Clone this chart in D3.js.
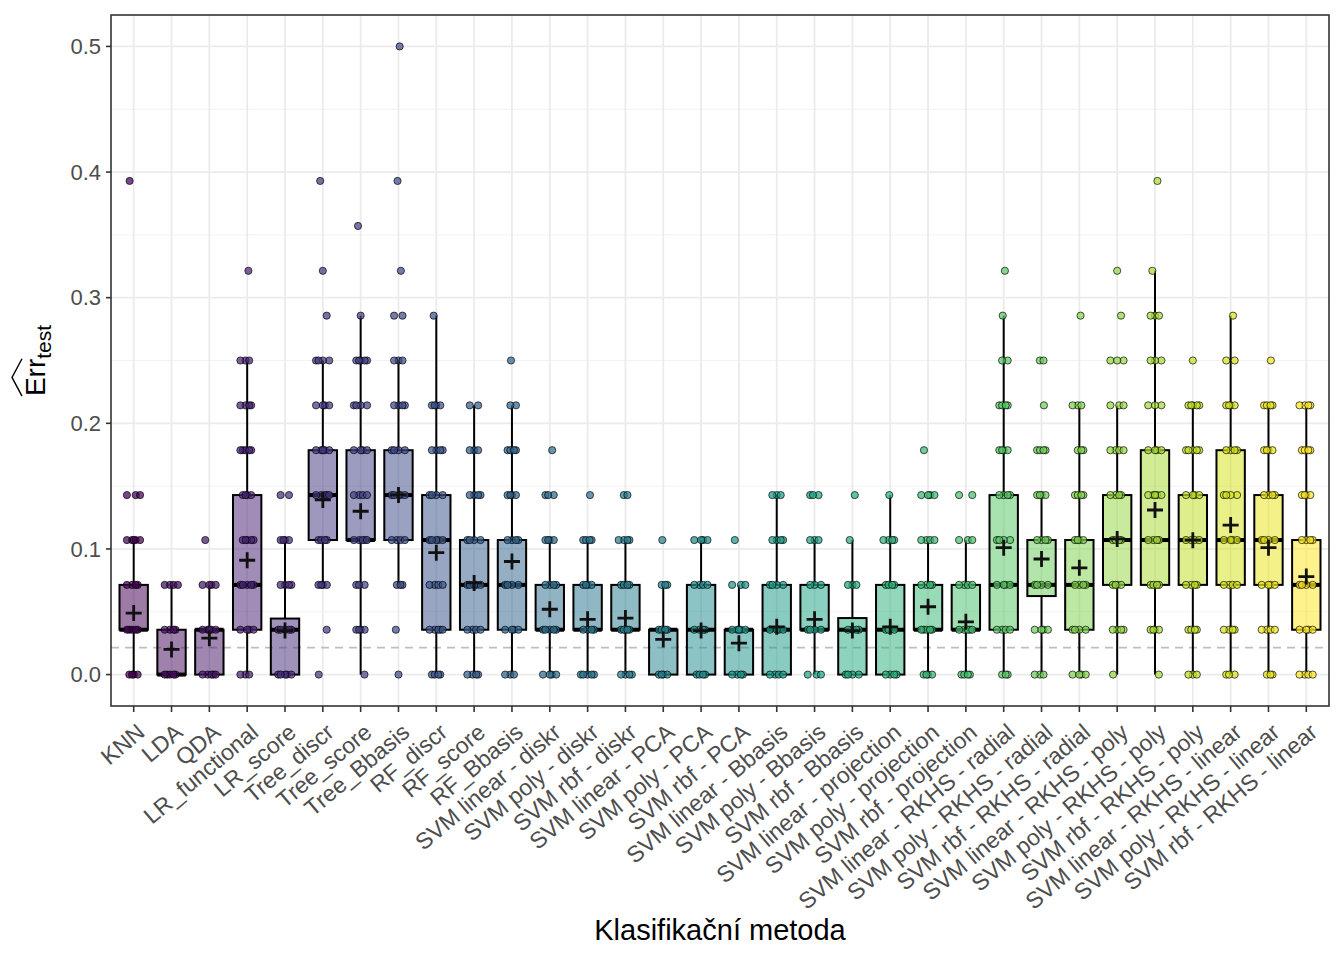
<!DOCTYPE html>
<html>
<head>
<meta charset="utf-8">
<script src="https://cdn.jsdelivr.net/npm/d3@7"></script>
<style>
body { margin: 0; background: #fff; }
text { font-family: "Liberation Sans", Arial, sans-serif; }
</style>
</head>
<body>
<svg id="chart" width="1344" height="960"></svg>
<script>
// methods on the x axis
var methods = ["KNN", "LDA", "QDA", "LR_functional", "LR_score", "Tree_discr", "Tree_score",
    "Tree_Bbasis", "RF_discr", "RF_score", "RF_Bbasis", "SVM linear - diskr", "SVM poly - diskr",
    "SVM rbf - diskr", "SVM linear - PCA", "SVM poly - PCA", "SVM rbf - PCA", "SVM linear - Bbasis",
    "SVM poly - Bbasis", "SVM rbf - Bbasis", "SVM linear - projection", "SVM poly - projection",
    "SVM rbf - projection", "SVM linear - RKHS - radial", "SVM poly - RKHS - radial",
    "SVM rbf - RKHS - radial", "SVM linear - RKHS - poly", "SVM poly - RKHS - poly",
    "SVM rbf - RKHS - poly", "SVM linear - RKHS - linear", "SVM poly - RKHS - linear",
    "SVM rbf - RKHS - linear"];

// box statistics (test error)
var q1 = [0.0357, 0, 0, 0.0357, 0, 0.1071, 0.1071, 0.1071, 0.0357, 0.0357, 0.0357, 0.0357, 0.0357,
    0.0357, 0, 0, 0, 0, 0.0357, 0, 0, 0.0357, 0.0357, 0.0357, 0.0625, 0.0357, 0.0714, 0.0714,
    0.0714, 0.0714, 0.0714, 0.0357];
var medians = [0.0357, 0, 0.0357, 0.0714, 0.0357, 0.1429, 0.1071, 0.1429, 0.1071, 0.0714, 0.0714,
    0.0357, 0.0357, 0.0357, 0.0357, 0.0357, 0.0357, 0.0357, 0.0357, 0.0357, 0.0357, 0.0357, 0.0357,
    0.0714, 0.0714, 0.0714, 0.1071, 0.1071, 0.1071, 0.1071, 0.1071, 0.0714];
var q3 = [0.0714, 0.0357, 0.0357, 0.1429, 0.0446, 0.1786, 0.1786, 0.1786, 0.1429, 0.1071, 0.1071,
    0.0714, 0.0714, 0.0714, 0.0357, 0.0714, 0.0357, 0.0714, 0.0714, 0.045, 0.0714, 0.0714, 0.0714,
    0.1429, 0.1071, 0.1071, 0.1429, 0.1786, 0.1429, 0.1786, 0.1429, 0.1071];
var whiskLow = [0, 0, 0, 0, 0, 0.0714, 0, 0.0714, 0, 0, 0, 0, 0, 0, 0, 0, 0, 0, 0, 0, 0, 0, 0, 0, 0,
    0, 0, 0, 0, 0, 0, 0];
var whiskHigh = [0.1071, 0.0714, 0.0714, 0.25, 0.1071, 0.25, 0.2857, 0.25, 0.2857, 0.2143, 0.2143,
    0.1071, 0.1071, 0.1071, 0.0714, 0.1071, 0.0714, 0.1429, 0.1071, 0.1071, 0.1429, 0.1071, 0.1071,
    0.2857, 0.1429, 0.2143, 0.2143, 0.3214, 0.2143, 0.2857, 0.2143, 0.2143];
var means = [0.049, 0.020, 0.029, 0.091, 0.035, 0.139, 0.130, 0.143, 0.097, 0.073, 0.090, 0.052,
    0.044, 0.045, 0.028, 0.035, 0.025, 0.038, 0.044, 0.035, 0.038, 0.054, 0.042, 0.101, 0.092,
    0.085, 0.108, 0.131, 0.107, 0.119, 0.101, 0.078];

// observed errors per method: [value, number of repetitions shown]
var points = [
    [[0, 4], [0.0357, 5], [0.0714, 4], [0.1071, 5], [0.1429, 3], [0.3929, 1]],
    [[0, 5], [0.0357, 4], [0.0714, 4]],
    [[0, 5], [0.0357, 5], [0.0714, 4], [0.1071, 1]],
    [[0, 3], [0.0357, 4], [0.0714, 5], [0.1071, 5], [0.1429, 4], [0.1786, 5], [0.2143, 4], [0.25, 3], [0.3214, 1]],
    [[0, 5], [0.0357, 5], [0.0714, 4], [0.1071, 4], [0.1429, 2]],
    [[0, 1], [0.0357, 1], [0.0714, 4], [0.1071, 4], [0.1429, 5], [0.1786, 5], [0.2143, 4], [0.25, 4], [0.2857, 1], [0.3214, 1], [0.3929, 1]],
    [[0, 1], [0.0357, 4], [0.0714, 3], [0.1071, 5], [0.1429, 4], [0.1786, 4], [0.2143, 4], [0.25, 5], [0.2857, 1], [0.3571, 1]],
    [[0, 1], [0.0357, 1], [0.0714, 3], [0.1071, 4], [0.1429, 5], [0.1786, 4], [0.2143, 4], [0.25, 3], [0.2857, 2], [0.3214, 1], [0.3929, 1], [0.5, 1]],
    [[0, 4], [0.0357, 5], [0.0714, 4], [0.1071, 5], [0.1429, 4], [0.1786, 4], [0.2143, 4], [0.2857, 1]],
    [[0, 4], [0.0357, 4], [0.0714, 5], [0.1071, 4], [0.1429, 4], [0.1786, 3], [0.2143, 2]],
    [[0, 3], [0.0357, 4], [0.0714, 4], [0.1071, 4], [0.1429, 4], [0.1786, 4], [0.2143, 2], [0.25, 1]],
    [[0, 4], [0.0357, 5], [0.0714, 4], [0.1071, 4], [0.1429, 3], [0.1786, 1]],
    [[0, 5], [0.0357, 4], [0.0714, 4], [0.1071, 4], [0.1429, 1]],
    [[0, 4], [0.0357, 5], [0.0714, 4], [0.1071, 4], [0.1429, 2]],
    [[0, 4], [0.0357, 4], [0.0714, 3], [0.1071, 1]],
    [[0, 4], [0.0357, 4], [0.0714, 4], [0.1071, 4]],
    [[0, 4], [0.0357, 5], [0.0714, 3], [0.1071, 1]],
    [[0, 4], [0.0357, 4], [0.0714, 4], [0.1071, 4], [0.1429, 3]],
    [[0, 3], [0.0357, 4], [0.0714, 3], [0.1071, 3], [0.1429, 3]],
    [[0, 4], [0.0357, 4], [0.0714, 3], [0.1071, 1], [0.1429, 1]],
    [[0, 4], [0.0357, 4], [0.0714, 4], [0.1071, 4], [0.1429, 1]],
    [[0, 4], [0.0357, 5], [0.0714, 4], [0.1071, 4], [0.1429, 4], [0.1786, 1]],
    [[0, 4], [0.0357, 5], [0.0714, 4], [0.1071, 3], [0.1429, 2]],
    [[0, 3], [0.0357, 4], [0.0714, 4], [0.1071, 4], [0.1429, 4], [0.1786, 4], [0.2143, 4], [0.25, 2], [0.2857, 1], [0.3214, 1]],
    [[0, 3], [0.0357, 4], [0.0714, 4], [0.1071, 4], [0.1429, 4], [0.1786, 4], [0.2143, 1], [0.25, 2]],
    [[0, 4], [0.0357, 4], [0.0714, 4], [0.1071, 4], [0.1429, 4], [0.1786, 3], [0.2143, 3], [0.2857, 1]],
    [[0, 1], [0.0357, 4], [0.0714, 4], [0.1071, 4], [0.1429, 4], [0.1786, 4], [0.2143, 3], [0.25, 3], [0.2857, 1], [0.3214, 1]],
    [[0, 1], [0.0357, 4], [0.0714, 4], [0.1071, 4], [0.1429, 5], [0.1786, 4], [0.2143, 3], [0.25, 3], [0.2857, 3], [0.3214, 1], [0.3929, 1]],
    [[0, 3], [0.0357, 4], [0.0714, 4], [0.1071, 4], [0.1429, 4], [0.1786, 5], [0.2143, 5], [0.25, 1]],
    [[0, 3], [0.0357, 4], [0.0714, 4], [0.1071, 4], [0.1429, 4], [0.1786, 4], [0.2143, 4], [0.25, 2], [0.2857, 1]],
    [[0, 3], [0.0357, 4], [0.0714, 4], [0.1071, 4], [0.1429, 4], [0.1786, 4], [0.2143, 4], [0.25, 1]],
    [[0, 4], [0.0357, 4], [0.0714, 4], [0.1071, 4], [0.1429, 4], [0.1786, 4], [0.2143, 4]]
];

var yTicks = [0, 0.1, 0.2, 0.3, 0.4, 0.5];
var yMinor = [0.05, 0.15, 0.25, 0.35, 0.45];
var refLine = 0.0215;

var svg = d3.select("#chart");
var pLeft = 111, pRight = 1329, pTop = 15, pBottom = 706;

var x = d3.scalePoint().domain(methods).range([pLeft, pRight]).padding(0.6);
var y = d3.scaleLinear().domain([-0.025, 0.525]).range([pBottom, pTop]);
var step = x.step();
var color = function (i) { return d3.interpolateViridis(i / (methods.length - 1)); };

// grid
svg.append("g").selectAll("line").data(yMinor).enter().append("line")
    .attr("x1", pLeft).attr("x2", pRight)
    .attr("y1", function (d) { return y(d); }).attr("y2", function (d) { return y(d); })
    .attr("stroke", "#F2F2F2").attr("stroke-width", 1);
svg.append("g").selectAll("line").data(yTicks).enter().append("line")
    .attr("x1", pLeft).attr("x2", pRight)
    .attr("y1", function (d) { return y(d); }).attr("y2", function (d) { return y(d); })
    .attr("stroke", "#EBEBEB").attr("stroke-width", 1.8);
svg.append("g").selectAll("line").data(methods).enter().append("line")
    .attr("y1", pTop).attr("y2", pBottom)
    .attr("x1", function (d) { return x(d); }).attr("x2", function (d) { return x(d); })
    .attr("stroke", "#EBEBEB").attr("stroke-width", 1.8);

// reference dashed line
svg.append("line")
    .attr("x1", pLeft).attr("x2", pRight)
    .attr("y1", y(refLine)).attr("y2", y(refLine))
    .attr("stroke", "#BEBEBE").attr("stroke-width", 1.8)
    .attr("stroke-dasharray", "8,6");

// boxplots
var boxW = step * 0.75;
var boxes = svg.append("g").selectAll("g").data(methods).enter().append("g");
boxes.append("line")
    .attr("x1", function (d) { return x(d); }).attr("x2", function (d) { return x(d); })
    .attr("y1", function (d, i) { return y(whiskHigh[i]); })
    .attr("y2", function (d, i) { return y(q3[i]); })
    .attr("stroke", "#000").attr("stroke-width", 2);
boxes.append("line")
    .attr("x1", function (d) { return x(d); }).attr("x2", function (d) { return x(d); })
    .attr("y1", function (d, i) { return y(q1[i]); })
    .attr("y2", function (d, i) { return y(whiskLow[i]); })
    .attr("stroke", "#000").attr("stroke-width", 2);
boxes.append("rect")
    .attr("x", function (d) { return x(d) - boxW / 2; })
    .attr("width", boxW)
    .attr("y", function (d, i) { return y(q3[i]); })
    .attr("height", function (d, i) { return y(q1[i]) - y(q3[i]); })
    .attr("fill", function (d, i) { return color(i); })
    .attr("fill-opacity", 0.52)
    .attr("stroke", "#000").attr("stroke-width", 2);
boxes.append("line")
    .attr("x1", function (d) { return x(d) - boxW / 2; })
    .attr("x2", function (d) { return x(d) + boxW / 2; })
    .attr("y1", function (d, i) { return y(medians[i]); })
    .attr("y2", function (d, i) { return y(medians[i]); })
    .attr("stroke", "#000").attr("stroke-width", 4);

// jittered observations (fixed offset pattern)
var jit = [0, -0.55, 0.5, -0.2, 0.25, -0.85, 0.8];
var dots = [];
points.forEach(function (lv, i) {
    lv.forEach(function (p, j) {
        for (var c = 0; c < p[1]; c++) {
            var off = p[1] === 1 ? jit[(i + j) % 7] * 0.6 : jit[(c + i + j) % 7];
            dots.push({ m: methods[i], i: i, v: p[0], off: off });
        }
    });
});
svg.append("g").selectAll("circle").data(dots).enter().append("circle")
    .attr("cx", function (d) { return x(d.m) + d.off * 8; })
    .attr("cy", function (d) { return y(d.v); })
    .attr("r", 3.6)
    .attr("fill", function (d) { return color(d.i); })
    .attr("fill-opacity", 0.72)
    .attr("stroke", "#000").attr("stroke-opacity", 0.75).attr("stroke-width", 0.9);

// means
var meanG = svg.append("g").selectAll("g").data(methods).enter().append("g")
    .attr("transform", function (d, i) { return "translate(" + x(d) + "," + y(means[i]) + ")"; });
meanG.append("path")
    .attr("d", "M-8,0H8M0,-8V8")
    .attr("stroke", "#111").attr("stroke-width", 2.8);

// panel border
svg.append("rect")
    .attr("x", pLeft).attr("y", pTop)
    .attr("width", pRight - pLeft).attr("height", pBottom - pTop)
    .attr("fill", "none").attr("stroke", "#333").attr("stroke-width", 1.6);

// y axis
var yAxis = svg.append("g");
yAxis.selectAll("line").data(yTicks).enter().append("line")
    .attr("x1", pLeft - 5).attr("x2", pLeft)
    .attr("y1", function (d) { return y(d); }).attr("y2", function (d) { return y(d); })
    .attr("stroke", "#333").attr("stroke-width", 1.6);
yAxis.selectAll("text").data(yTicks).enter().append("text")
    .attr("x", pLeft - 10)
    .attr("y", function (d) { return y(d); })
    .attr("dy", "0.35em")
    .attr("text-anchor", "end")
    .attr("font-size", 22)
    .attr("fill", "#4D4D4D")
    .text(function (d) { return d3.format(".1f")(d); });

// x axis
var xAxis = svg.append("g");
xAxis.selectAll("line").data(methods).enter().append("line")
    .attr("y1", pBottom).attr("y2", pBottom + 6)
    .attr("x1", function (d) { return x(d); }).attr("x2", function (d) { return x(d); })
    .attr("stroke", "#333").attr("stroke-width", 1.6);
xAxis.selectAll("text").data(methods).enter().append("text")
    .attr("transform", function (d) { return "translate(" + (x(d) + 2) + "," + (pBottom + 16) + ") rotate(-40)"; })
    .attr("text-anchor", "end")
    .attr("dy", "0.72em")
    .attr("font-size", 23)
    .attr("fill", "#4D4D4D")
    .text(function (d) { return d; });

// axis titles
svg.append("text")
    .attr("x", (pLeft + pRight) / 2).attr("y", 940)
    .attr("text-anchor", "middle")
    .attr("font-size", 29)
    .attr("fill", "#000")
    .text("Klasifikační metoda");

var yl = svg.append("g").attr("transform", "translate(45," + ((pTop + pBottom) / 2) + ") rotate(-90)");
var ylText = yl.append("text")
    .attr("font-size", 28)
    .attr("fill", "#000");
var errSpan = ylText.append("tspan").text("Err");
ylText.append("tspan").attr("font-size", 21).attr("dy", 6).text("test");
var fullW = ylText.node().getComputedTextLength();
var errW = errSpan.node().getComputedTextLength();
ylText.attr("x", -fullW / 2);
yl.append("path")
    .attr("d", "M" + (-fullW / 2) + ",-23L" + (-fullW / 2 + errW / 2) + ",-33L" + (-fullW / 2 + errW) + ",-23")
    .attr("fill", "none").attr("stroke", "#000").attr("stroke-width", 1.4);
</script>
</body>
</html>
